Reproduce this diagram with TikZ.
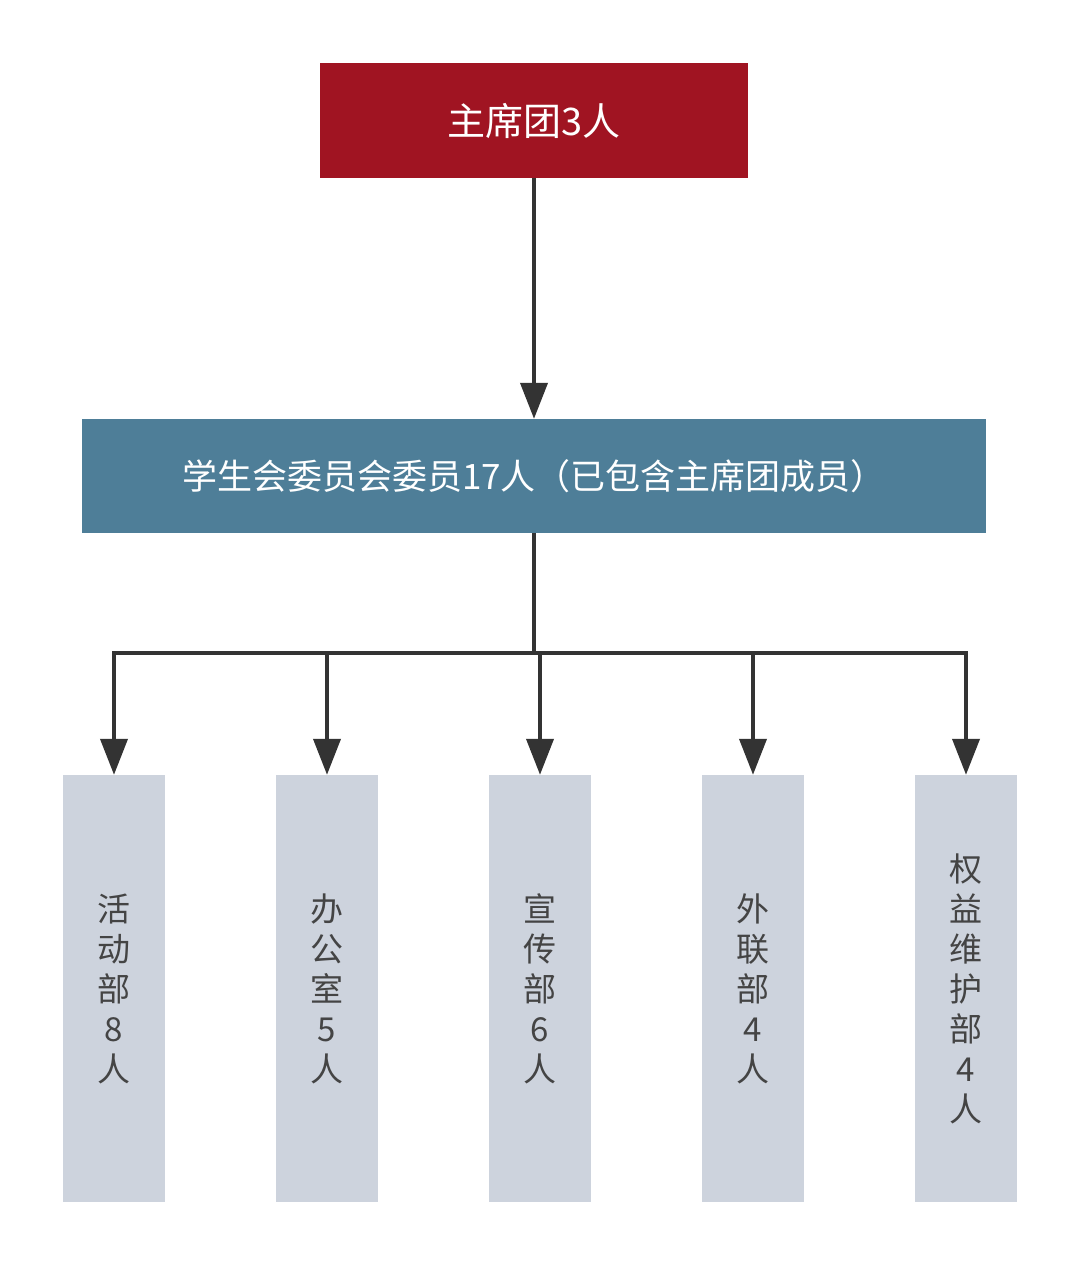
\documentclass[tikz,border=0pt]{standalone}
\usepackage{fontspec}
\setmainfont{Noto Sans CJK SC}
\usetikzlibrary{arrows.meta}
\definecolor{topred}{HTML}{A01422}
\definecolor{midblue}{HTML}{4E7E98}
\definecolor{deptgray}{HTML}{CDD3DD}
\definecolor{linegray}{HTML}{333333}
\definecolor{textgray}{HTML}{444444}
\begin{document}
\begin{tikzpicture}[x=1pt,y=-1pt,
  topbox/.style={fill=topred,draw=none,minimum width=428pt,minimum height=115pt,inner sep=0pt,text=white,font=\fontsize{38}{44}\selectfont},
  midbox/.style={fill=midblue,draw=none,minimum width=904pt,minimum height=114pt,inner sep=0pt,text=white,font=\fontsize{35}{42}\selectfont},
  deptbox/.style={fill=deptgray,draw=none,minimum width=102pt,minimum height=427pt,inner sep=0pt,text=textgray,align=center,font=\fontsize{33}{40}\selectfont},
  conn/.style={draw=linegray,line width=4pt},
  arr/.style={conn,-{Triangle[length=36pt,width=27pt]}}]
\useasboundingbox (0,0) rectangle (1080,1265);
\fill[white] (0,0) rectangle (1080,1265);
\node[topbox] (top) at (534,120.5) {主席团3人};
\node[midbox] (mid) at (534,476) {学生会委员会委员17人（已包含主席团成员）};
\node[deptbox] (d1) at (114,988.5) {活\\动\\部\\8\\人};
\node[deptbox] (d2) at (327,988.5) {办\\公\\室\\5\\人};
\node[deptbox] (d3) at (540,988.5) {宣\\传\\部\\6\\人};
\node[deptbox] (d4) at (753,988.5) {外\\联\\部\\4\\人};
\node[deptbox] (d5) at (966,988.5) {权\\益\\维\\护\\部\\4\\人};
\coordinate (bus) at (534,653);
\draw[arr] (top.south) -- (mid.north);
\draw[conn] (mid.south) -- (bus);
\draw[conn,line cap=rect] (d1.north |- bus) -- (d5.north |- bus);
\foreach \d in {d1,d2,d3,d4,d5}{
  \draw[arr] (\d.north |- bus) -- (\d.north);
}
\end{tikzpicture}
\end{document}
